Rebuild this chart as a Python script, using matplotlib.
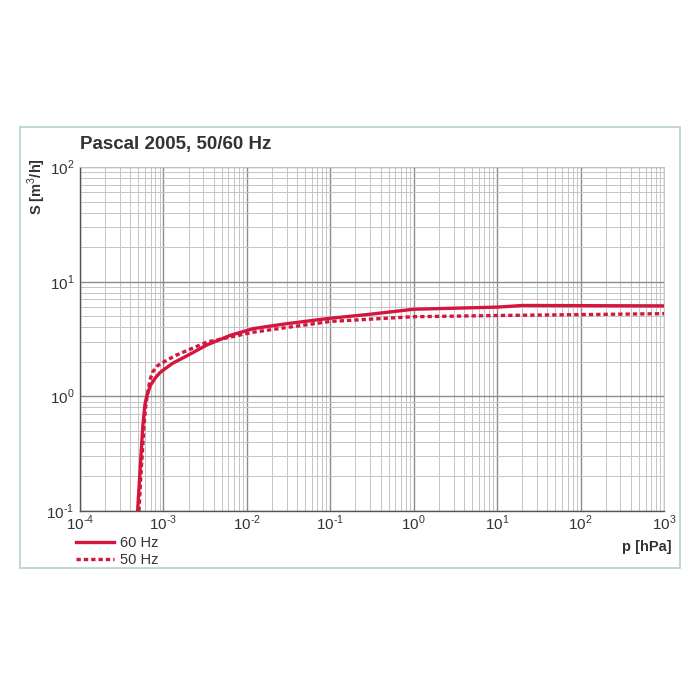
import matplotlib
matplotlib.use("Agg")
import matplotlib.pyplot as plt
import numpy as np
from matplotlib.lines import Line2D
from matplotlib.patches import Rectangle
from matplotlib.ticker import FuncFormatter, LogLocator, NullFormatter

plt.rcParams['font.family'] = ['Liberation Sans', 'DejaVu Sans']
plt.rcParams['mathtext.fontset'] = 'custom'
plt.rcParams['mathtext.rm'] = 'Liberation Sans'

RED = '#d4163f'

# pumping speed curves
p_60 = [4.9e-4, 5.15e-4, 5.4e-4, 5.65e-4, 6.0e-4, 6.3e-4, 7.0e-4, 8.0e-4, 9.0e-4,
        1e-3, 1.3e-3, 1.9e-3, 3.3e-3, 6.3e-3, 1.2e-2, 3e-2, 1e-1, 3e-1, 1.0, 10.0, 20.0, 1000.0]
s_60 = [0.1, 0.18, 0.32, 0.54, 0.85, 1.0, 1.25, 1.45, 1.6,
        1.7, 1.95, 2.25, 2.8, 3.4, 3.9, 4.3, 4.8, 5.2, 5.75, 6.0, 6.2, 6.15]

p_50 = [5.1e-4, 5.35e-4, 5.6e-4, 5.85e-4, 6.1e-4, 6.5e-4, 6.9e-4, 7.5e-4, 8.5e-4,
        1.1e-3, 1.45e-3, 3.3e-3, 1.2e-2, 1e-1, 1.0, 10.0, 1000.0]
s_50 = [0.1, 0.2, 0.33, 0.55, 0.8, 1.1, 1.4, 1.65, 1.85,
        2.07, 2.3, 2.97, 3.63, 4.5, 4.95, 5.07, 5.26]

x_limits = (1e-4, 1e3)
y_limits = (1e-1, 1e2)


def power_label(value, pos):
    exp = int(round(np.log10(value)))
    if exp < 0:
        return r'10$^{\text{-}%d}$' % (-exp)
    return r'10$^{%d}$' % exp


fig = plt.figure(figsize=(7, 7), dpi=100)
fig.patches.append(Rectangle((0.0286, 0.1886), 0.9428, 0.63, transform=fig.transFigure,
                             fill=False, edgecolor='#b7cfcf', linewidth=1.2))

ax = fig.add_axes([0.1143, 0.27, 0.8343, 0.4914])
ax.set_xscale('log')
ax.set_yscale('log')
ax.set_xlim(*x_limits)
ax.set_ylim(*y_limits)

ax.xaxis.set_major_locator(LogLocator(base=10, numticks=20))
ax.yaxis.set_major_locator(LogLocator(base=10, numticks=20))
ax.xaxis.set_minor_locator(LogLocator(base=10, subs=range(2, 10), numticks=100))
ax.yaxis.set_minor_locator(LogLocator(base=10, subs=range(2, 10), numticks=100))
ax.xaxis.set_major_formatter(FuncFormatter(power_label))
ax.yaxis.set_major_formatter(FuncFormatter(power_label))
ax.xaxis.set_minor_formatter(NullFormatter())
ax.yaxis.set_minor_formatter(NullFormatter())

ax.grid(True, which='major', color='#8c8c8c', linewidth=1.0)
ax.grid(True, which='minor', color='#c4c4c4', linewidth=0.7)
ax.set_axisbelow(True)

for side in ['top', 'right']:
    ax.spines[side].set_color('#c4c4c4')
    ax.spines[side].set_linewidth(0.7)
for side in ['left', 'bottom']:
    ax.spines[side].set_color('#555555')
    ax.spines[side].set_linewidth(1.0)

ax.tick_params(which='both', length=0, labelsize=11, colors='#333333')
ax.tick_params(axis='x', pad=2)
ax.tick_params(axis='y', pad=4)

ax.plot(p_60, s_60, color=RED, linewidth=2.4, solid_joinstyle='round')
ax.plot(p_50, s_50, color=RED, linewidth=2.4, linestyle=(0, (1.3, 0.9)))

fig.text(0.1143, 0.793, 'Pascal 2005, 50/60 Hz', fontsize=13.5, fontweight='bold',
         color='#333333', va='center', ha='left')
fig.text(0.053, 0.733, 'S [m$^3$/h]', fontsize=10.5, fontweight='bold', color='#333333',
         rotation=90, va='center', ha='center')
fig.text(0.96, 0.219, 'p [hPa]', fontsize=10.5, fontweight='bold', color='#333333',
         va='center', ha='right')

handles = [Line2D([], [], color=RED, linewidth=2.4),
           Line2D([], [], color=RED, linewidth=2.4, linestyle=(0, (1.3, 0.9)))]
fig.legend(handles, ['60 Hz', '50 Hz'], loc='upper left', bbox_to_anchor=(0.108, 0.234),
           frameon=False, fontsize=10.5, handlelength=2.6, handletextpad=0.45,
           labelspacing=0.2, borderaxespad=0, borderpad=0, labelcolor='#333333')

fig.savefig('out.png', dpi=100)
